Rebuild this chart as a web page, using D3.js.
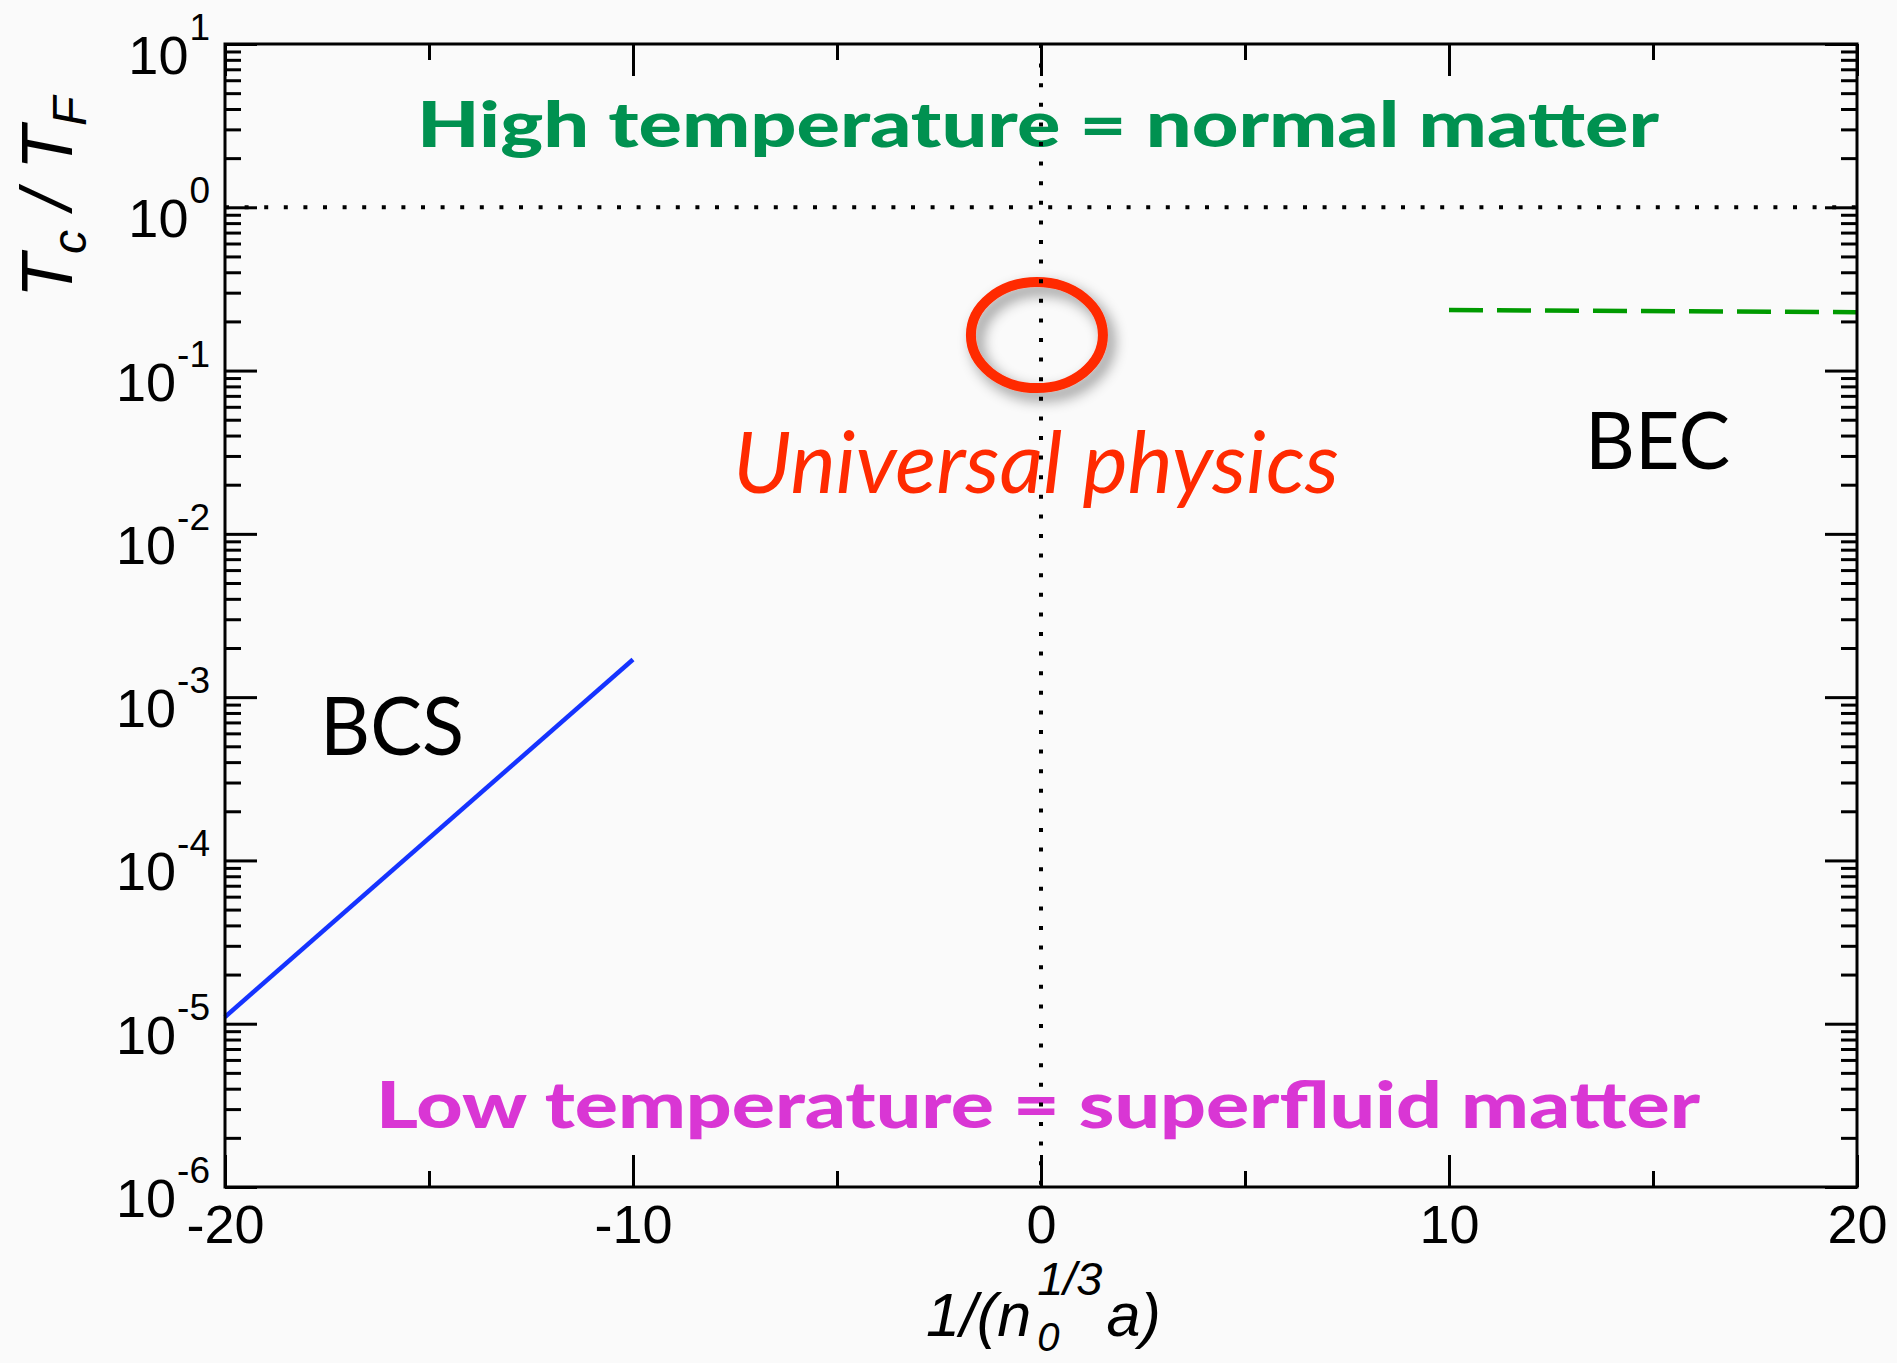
<!DOCTYPE html>
<html>
<head>
<meta charset="utf-8">
<script src="https://cdn.jsdelivr.net/npm/d3@7"></script>
<style>
  html, body { margin: 0; padding: 0; background: #fafafa; }
  svg { display: block; }
</style>
</head>
<body>
<svg id="chart" width="1897" height="1363"></svg>
<script>
// Axis ranges and tick values
const xDomain = [-20, 20];
const yDomain = [1e-6, 10];
const xMajorTicks = [-20, -10, 0, 10, 20];
const xMinorTicks = [-15, -5, 5, 15];
const yExponents = [1, 0, -1, -2, -3, -4, -5, -6];

// Weak-coupling (BCS) asymptote
const bcsX = [-20, -10];
const bcsTc = [1.1e-5, 1.7e-3];

// Strong-coupling (BEC) limit
const becX = [10, 20];
const becTc = [0.235, 0.228];

// Guide lines: unitarity and T = T_F
const unitarityX = 0;
const fermiTc = 1;

// Unitary regime marker
const universalCenter = { x: -0.1, y: 0.165 };

const W = 1897, H = 1363;
const plot = { left: 225, right: 1857, top: 44, bottom: 1187 };

const svg = d3.select("#chart");
svg.append("rect").attr("width", W).attr("height", H).attr("fill", "#fafafa");

const x = d3.scaleLinear().domain(xDomain).range([plot.left, plot.right]);
const y = d3.scaleLog().domain(yDomain).range([plot.bottom, plot.top]);

const defs = svg.append("defs");
const shadow = defs.append("filter").attr("id", "ringShadow")
  .attr("x", "-40%").attr("y", "-40%").attr("width", "180%").attr("height", "180%");
shadow.append("feDropShadow")
  .attr("dx", 6).attr("dy", 7).attr("stdDeviation", 7)
  .attr("flood-color", "#000").attr("flood-opacity", 0.45);

const tickFont = "'Liberation Sans', Arial, Helvetica, sans-serif";
const gillFont = "Lato, 'Open Sans', sans-serif";

// Region labels, stretched to their span
function fitText(txt, x0, x1, baseline, size, opts) {
  return svg.append("text")
    .attr("x", x0).attr("y", baseline)
    .attr("textLength", x1 - x0)
    .attr("lengthAdjust", "spacingAndGlyphs")
    .style("font-family", gillFont)
    .style("font-size", size + "px")
    .style("font-weight", opts.weight || 400)
    .style("font-style", opts.style || "normal")
    .attr("fill", opts.fill)
    .text(txt);
}

fitText("High temperature = normal matter", 417, 1659, 147, 62, { weight: 900, fill: "#009150" });
fitText("Low temperature = superfluid matter", 376, 1700, 1128, 64, { weight: 900, fill: "#d936d4" });
fitText("Universal physics", 733, 1339, 493, 86, { style: "italic", fill: "#ff2a00" });
fitText("BEC", 1585, 1730, 469, 80, { fill: "#000" });
fitText("BCS", 320, 464, 755, 82, { fill: "#000" });

// BCS curve
const line = d3.line().x(d => x(d[0])).y(d => y(d[1]));
svg.append("path")
  .datum(bcsX.map((v, i) => [v, bcsTc[i]]))
  .attr("d", line)
  .attr("fill", "none")
  .attr("stroke", "#1533ff")
  .attr("stroke-width", 4.5);

// BEC limit
svg.append("path")
  .datum(becX.map((v, i) => [v, becTc[i]]))
  .attr("d", line)
  .attr("fill", "none")
  .attr("stroke", "#009a00")
  .attr("stroke-width", 4.5)
  .attr("stroke-dasharray", "34 14");

// Unitary ring
svg.append("ellipse")
  .attr("cx", x(universalCenter.x))
  .attr("cy", y(universalCenter.y))
  .attr("rx", 66).attr("ry", 53)
  .attr("fill", "none")
  .attr("stroke", "#ff2a00")
  .attr("stroke-width", 10)
  .attr("filter", "url(#ringShadow)");

// Dotted guides
svg.append("line")
  .attr("x1", plot.left).attr("x2", plot.right)
  .attr("y1", y(fermiTc)).attr("y2", y(fermiTc))
  .attr("stroke", "#000").attr("stroke-width", 4)
  .attr("stroke-dasharray", "4 15.6");
svg.append("line")
  .attr("x1", x(unitarityX)).attr("x2", x(unitarityX))
  .attr("y1", plot.top).attr("y2", plot.bottom)
  .attr("stroke", "#000").attr("stroke-width", 4)
  .attr("stroke-dasharray", "4 15.6");

// Axes (inward ticks on all four sides)
const yAll = y.ticks();
const isDecade = v => Math.abs(Math.log10(v) - Math.round(Math.log10(v))) < 1e-9;
const yMajor = yAll.filter(isDecade);
const yMinor = yAll.filter(v => !isDecade(v));

function styleAxis(g) {
  g.select(".domain").remove();
  g.selectAll(".tick line").attr("stroke", "#000").attr("stroke-width", 3);
}

svg.append("g").attr("transform", `translate(0,${plot.bottom})`)
  .call(d3.axisBottom(x).tickValues(xMajorTicks).tickSize(-32).tickSizeOuter(0).tickPadding(18)
    .tickFormat(d => String(d)))
  .call(styleAxis)
  .call(g => g.selectAll("text")
    .style("font-family", tickFont).style("font-size", "54px").attr("fill", "#000"));
svg.append("g").attr("transform", `translate(0,${plot.bottom})`)
  .call(d3.axisBottom(x).tickValues(xMinorTicks).tickSize(-16).tickSizeOuter(0).tickFormat(""))
  .call(styleAxis);
svg.append("g").attr("transform", `translate(0,${plot.top})`)
  .call(d3.axisTop(x).tickValues(xMajorTicks).tickSize(-32).tickSizeOuter(0).tickFormat(""))
  .call(styleAxis);
svg.append("g").attr("transform", `translate(0,${plot.top})`)
  .call(d3.axisTop(x).tickValues(xMinorTicks).tickSize(-16).tickSizeOuter(0).tickFormat(""))
  .call(styleAxis);

svg.append("g").attr("transform", `translate(${plot.left},0)`)
  .call(d3.axisLeft(y).tickValues(yMajor).tickSize(-32).tickSizeOuter(0).tickFormat(""))
  .call(styleAxis);
svg.append("g").attr("transform", `translate(${plot.left},0)`)
  .call(d3.axisLeft(y).tickValues(yMinor).tickSize(-16).tickSizeOuter(0).tickFormat(""))
  .call(styleAxis);
svg.append("g").attr("transform", `translate(${plot.right},0)`)
  .call(d3.axisRight(y).tickValues(yMajor).tickSize(-32).tickSizeOuter(0).tickFormat(""))
  .call(styleAxis);
svg.append("g").attr("transform", `translate(${plot.right},0)`)
  .call(d3.axisRight(y).tickValues(yMinor).tickSize(-16).tickSizeOuter(0).tickFormat(""))
  .call(styleAxis);

// Frame
svg.append("rect")
  .attr("x", plot.left).attr("y", plot.top)
  .attr("width", plot.right - plot.left).attr("height", plot.bottom - plot.top)
  .attr("fill", "none").attr("stroke", "#000").attr("stroke-width", 3);

// Y tick labels as powers of ten
const yLab = svg.append("g").style("font-family", tickFont).attr("fill", "#000");
yExponents.forEach(e => {
  const yy = y(Math.pow(10, e));
  const sup = yLab.append("text")
    .attr("x", 210).attr("y", yy - 4)
    .attr("text-anchor", "end")
    .style("font-size", "37px")
    .text(String(e));
  const w = sup.node().getComputedTextLength();
  yLab.append("text")
    .attr("x", 210 - w - 1).attr("y", yy + 30)
    .attr("text-anchor", "end")
    .style("font-size", "54px")
    .text("10");
});

// X axis title: 1/(n_0^{1/3} a)
const xt = svg.append("g")
  .style("font-family", tickFont).style("font-style", "italic").attr("fill", "#000");
const xt1 = xt.append("text").attr("x", 926).attr("y", 1336).style("font-size", "61px").text("1/(n");
const xEnd1 = 926 + xt1.node().getComputedTextLength();
xt.append("text").attr("x", xEnd1 + 6).attr("y", 1351).style("font-size", "40px").text("0");
const xtSup = xt.append("text").attr("x", xEnd1 + 6).attr("y", 1295).style("font-size", "47px").text("1/3");
const xEnd2 = xEnd1 + 6 + xtSup.node().getComputedTextLength();
xt.append("text").attr("x", xEnd2 + 4).attr("y", 1336).style("font-size", "61px").text("a)");

// Y axis title: T_c / T_F
const yt = svg.append("text")
  .attr("transform", "translate(72,298) rotate(-90)")
  .style("font-family", tickFont).style("font-style", "italic")
  .style("font-size", "72px").attr("fill", "#000");
yt.append("tspan").text("T");
yt.append("tspan").attr("dy", 14).style("font-size", "48px").text("c");
yt.append("tspan").attr("dy", -14).text(" / ");
yt.append("tspan").text("T");
yt.append("tspan").attr("dy", 14).style("font-size", "48px").text("F");
</script>
</body>
</html>
